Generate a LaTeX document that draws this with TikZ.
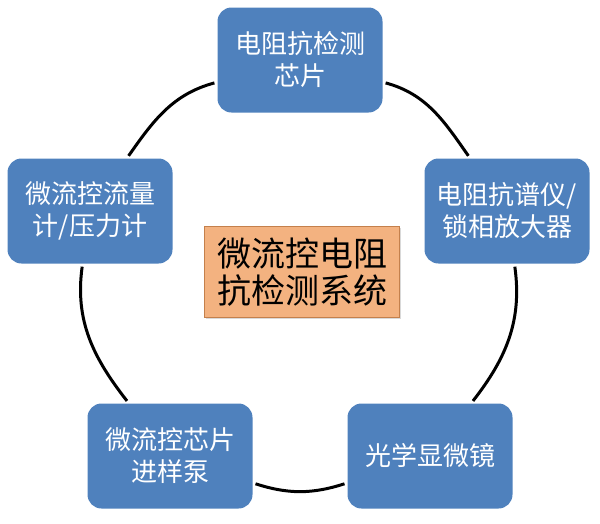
\documentclass[tikz,border=0pt]{standalone}
\usepackage{fontspec}
\newfontfamily\cjk{Noto Sans CJK SC}
\usetikzlibrary{shadows}
\definecolor{boxblue}{RGB}{79,129,189}
\definecolor{peach}{RGB}{243,178,128}
\definecolor{peachline}{RGB}{196,128,76}
\tikzset{
  bluebox/.style={rectangle, rounded corners=14pt, fill=boxblue, draw=none,
    minimum width=165pt, minimum height=105pt, inner sep=0pt, align=center,
    text=white, font=\cjk\fontsize{26}{32}\selectfont},
  hubbox/.style={rectangle, fill=peach, draw=peachline, line width=0.8pt,
    minimum width=195pt, minimum height=91pt, inner sep=0pt, align=center,
    text=black, font=\cjk\fontsize{34}{37}\selectfont,
    drop shadow={opacity=0.3, shadow xshift=1.5pt, shadow yshift=-1.5pt}},
  ring/.style={line width=3pt, shorten >=3pt, shorten <=3pt}
}
\begin{document}
\begin{tikzpicture}[x=1pt, y=-1pt]
\useasboundingbox (0,0) rectangle (600,523);
\node[bluebox] (top) at (300,60) {电阻抗检测\\芯片};
\node[bluebox] (right) at (507,211) {电阻抗谱仪/\\锁相放大器};
\node[bluebox] (br) at (430,456) {光学显微镜};
\node[bluebox] (bl) at (170,456) {微流控芯片\\进样泵};
\node[bluebox] (left) at (90,211) {微流控流量\\计/压力计};
\node[hubbox] (hub) at (302,272) {微流控电阻\\抗检测系统};
\draw[ring] (top) to[out=-15, in=125] (right);
\draw[ring] (right) to[out=-82, in=52] (br);
\draw[ring] (br) to[out=198, in=-18] (bl);
\draw[ring] (bl) to[out=128, in=-98] (left);
\draw[ring] (left) to[out=55, in=195] (top);
\end{tikzpicture}
\end{document}
